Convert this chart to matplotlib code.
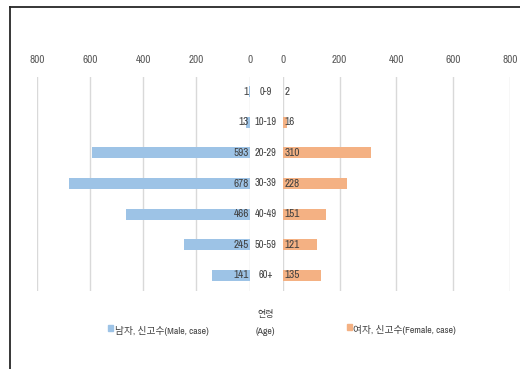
import matplotlib
matplotlib.use("Agg")
import matplotlib.pyplot as plt
from matplotlib.patches import Rectangle
from matplotlib.lines import Line2D

age_groups = ["0-9", "10-19", "20-29", "30-39", "40-49", "50-59", "60+"]
male_cases = [1, 13, 593, 678, 466, 245, 141]
female_cases = [2, 16, 310, 228, 151, 121, 135]
ticks = [0, 200, 400, 600, 800]

male_label = "남자, 신고수(Male, case)"
female_label = "여자, 신고수(Female, case)"
axis_title = ["연령", "(Age)"]

male_color = "#9DC3E6"
female_color = "#F4B183"
text_color = "#404040"
grid_color = "#D9D9D9"

font = ["Archivo Narrow", "Noto Sans CJK KR", "DejaVu Sans"]
plt.rcParams["font.family"] = font

W, H = 520, 369
fig = plt.figure(figsize=(W / 100, H / 100), dpi=100)

def fx(px):
    return px / W

def fy(py):
    return 1 - py / H

top, bottom = 76.5, 290.5
ax_l = fig.add_axes([fx(36.7), fy(bottom), fx(249.7 - 36.7), (bottom - top) / H])
ax_r = fig.add_axes([fx(282.7), fy(bottom), fx(510 - 282.7), (bottom - top) / H])

ypos = list(range(len(age_groups)))
bar_h = 0.36

for ax, vals, color in ((ax_l, male_cases, male_color), (ax_r, female_cases, female_color)):
    ax.barh(ypos, vals, height=bar_h, color=color, zorder=2)
    ax.set_xlim(0, 800)
    ax.set_ylim(len(age_groups) - 0.5, -0.5)
    ax.set_xticks(ticks)
    ax.set_xticklabels([str(t) for t in ticks])
    ax.xaxis.tick_top()
    ax.tick_params(axis="x", length=0, pad=8.5, labelsize=8, labelcolor="#595959")
    ax.set_yticks([])
    ax.grid(axis="x", color=grid_color, linewidth=1, zorder=0)
    for s in ax.spines.values():
        s.set_visible(False)
    ax.patch.set_alpha(0)

ax_l.invert_xaxis()

for y, v in zip(ypos, male_cases):
    ax_l.text(3, y, str(v), ha="right", va="center", fontsize=8,
              color=text_color, zorder=3)
for y, v in zip(ypos, female_cases):
    ax_r.text(6, y, str(v), ha="left", va="center", fontsize=8,
              color=text_color, zorder=3)

# age group labels in the gap between the two panels
for y, lab in zip(ypos, age_groups):
    yp = top + (y + 0.5) * (bottom - top) / len(age_groups)
    fig.text(fx(265.5), fy(yp), lab, ha="center", va="center",
             fontsize=7.5, color=text_color)

# axis title and legend
fig.text(fx(265.5), fy(314), axis_title[0], ha="center", va="center",
         fontsize=6.5, color=text_color)
fig.text(fx(265.5), fy(331), axis_title[1], ha="center", va="center",
         fontsize=7, color=text_color)

fig.patches.append(Rectangle((fx(108), fy(331)), fx(5), 6 / H,
                             transform=fig.transFigure, color=male_color))
fig.text(fx(115), fy(331), male_label, ha="left", va="center",
         fontsize=7, color=text_color)
fig.patches.append(Rectangle((fx(347), fy(330)), fx(5), 6 / H,
                             transform=fig.transFigure, color=female_color))
fig.text(fx(353), fy(330), female_label, ha="left", va="center",
         fontsize=7, color=text_color)

# frame lines along top and left
fig.add_artist(Line2D([fx(10), 1], [fy(7), fy(7)], color="#262626",
                      linewidth=1.3, transform=fig.transFigure))
fig.add_artist(Line2D([fx(10), fx(10)], [fy(7), 0], color="#262626",
                      linewidth=1.3, transform=fig.transFigure))

fig.savefig("out.png", dpi=100, facecolor="white")
